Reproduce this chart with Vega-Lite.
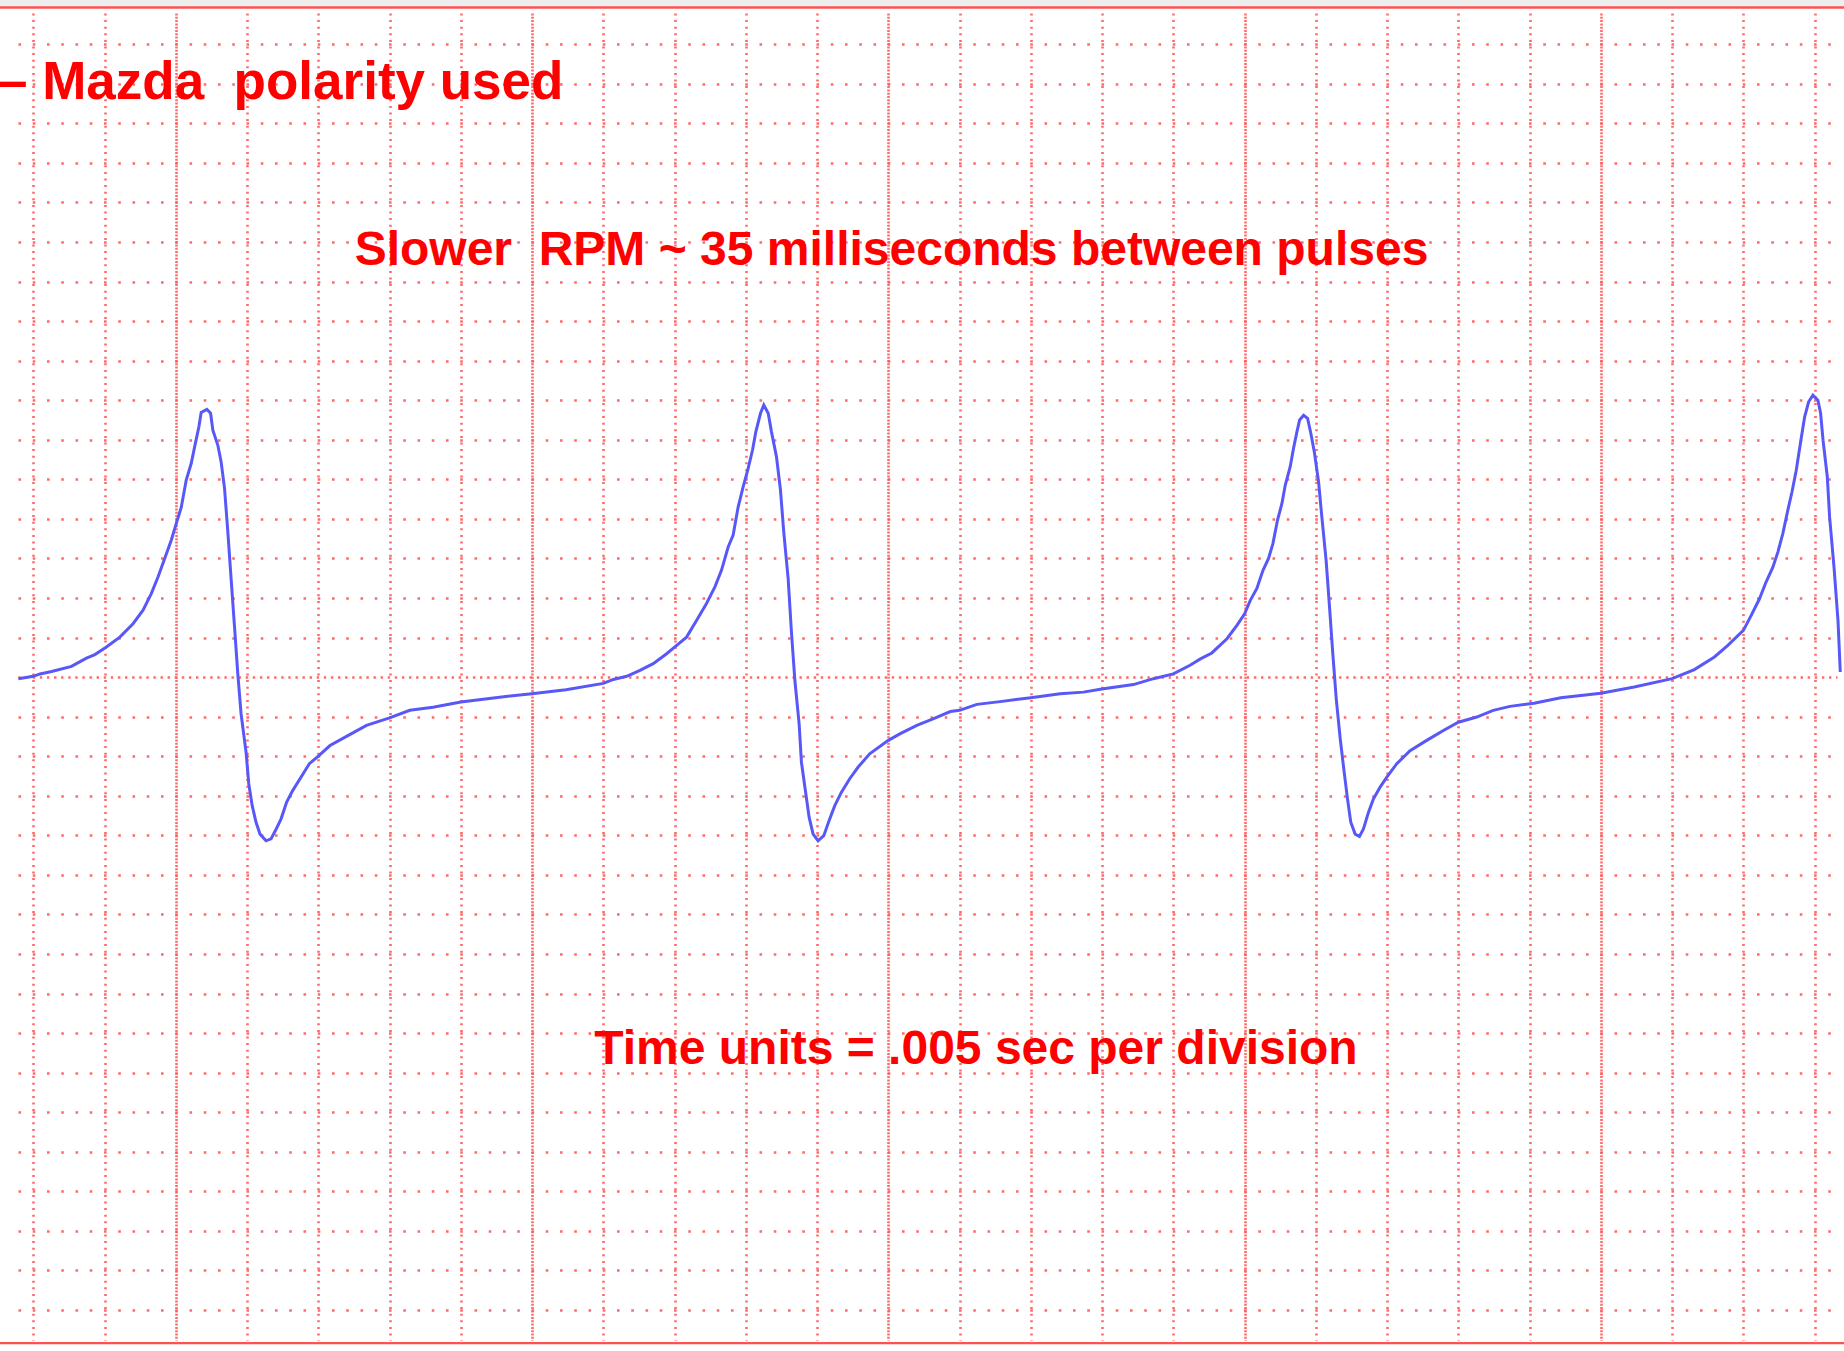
{
  "$schema": "https://vega.github.io/schema/vega-lite/v6.json",
  "width": 1819,
  "height": 1327,
  "autosize": {"type": "none"},
  "padding": {"left": 18, "right": 7, "top": 13, "bottom": 11},
  "background": "white",
  "config": {
    "view": {"stroke": null},
    "axis": {"labels": false, "ticks": false, "domain": false, "title": null, "grid": true}
  },
  "resolve": {"axis": {"x": "independent", "y": "independent"}},
  "datasets": {
    "wave": [
      {"t": -1.05, "v": -0.04}, {"t": 0, "v": 0.02}, {"t": 0.47, "v": 0.08}, {"t": 1.28, "v": 0.14}, {"t": 2.68, "v": 0.27},
      {"t": 3.73, "v": 0.48}, {"t": 4.32, "v": 0.57}, {"t": 5.13, "v": 0.76}, {"t": 6.07, "v": 1.01}, {"t": 7.0, "v": 1.35},
      {"t": 7.7, "v": 1.69}, {"t": 8.28, "v": 2.11}, {"t": 8.75, "v": 2.53}, {"t": 9.22, "v": 3.0}, {"t": 9.68, "v": 3.46},
      {"t": 10.03, "v": 3.88}, {"t": 10.38, "v": 4.29}, {"t": 10.73, "v": 4.98}, {"t": 11.08, "v": 5.4}, {"t": 11.32, "v": 5.82},
      {"t": 11.62, "v": 6.33}, {"t": 11.78, "v": 6.69}, {"t": 12.18, "v": 6.77}, {"t": 12.44, "v": 6.67}, {"t": 12.6, "v": 6.24},
      {"t": 12.95, "v": 5.86}, {"t": 13.18, "v": 5.44}, {"t": 13.42, "v": 4.77}, {"t": 13.65, "v": 3.67}, {"t": 13.88, "v": 2.49},
      {"t": 14.12, "v": 1.27}, {"t": 14.35, "v": 0.08}, {"t": 14.58, "v": -0.93}, {"t": 14.93, "v": -1.9}, {"t": 15.12, "v": -2.7},
      {"t": 15.36, "v": -3.25}, {"t": 15.63, "v": -3.67}, {"t": 15.91, "v": -3.97}, {"t": 16.33, "v": -4.14}, {"t": 16.68, "v": -4.09},
      {"t": 16.99, "v": -3.88}, {"t": 17.38, "v": -3.59}, {"t": 17.78, "v": -3.16}, {"t": 18.2, "v": -2.87}, {"t": 18.75, "v": -2.55},
      {"t": 19.37, "v": -2.19}, {"t": 20.0, "v": -2.0}, {"t": 20.82, "v": -1.73}, {"t": 21.98, "v": -1.5}, {"t": 23.38, "v": -1.22},
      {"t": 25.0, "v": -1.03}, {"t": 26.42, "v": -0.84}, {"t": 28.05, "v": -0.76}, {"t": 30.0, "v": -0.63}, {"t": 32.72, "v": -0.51},
      {"t": 34.98, "v": -0.42}, {"t": 37.38, "v": -0.32}, {"t": 40.0, "v": -0.16},
      {"t": 40.7, "v": -0.06}, {"t": 41.64, "v": 0.02}, {"t": 42.57, "v": 0.17}, {"t": 43.5, "v": 0.34}, {"t": 44.44, "v": 0.59},
      {"t": 45.0, "v": 0.76}, {"t": 45.84, "v": 1.01}, {"t": 46.54, "v": 1.43}, {"t": 47.24, "v": 1.86}, {"t": 47.83, "v": 2.28},
      {"t": 48.29, "v": 2.7}, {"t": 48.76, "v": 3.29}, {"t": 49.11, "v": 3.59}, {"t": 49.46, "v": 4.3}, {"t": 49.81, "v": 4.81},
      {"t": 50.16, "v": 5.27}, {"t": 50.47, "v": 5.74}, {"t": 50.7, "v": 6.2}, {"t": 51.03, "v": 6.67}, {"t": 51.26, "v": 6.88},
      {"t": 51.57, "v": 6.67}, {"t": 51.8, "v": 6.2}, {"t": 52.15, "v": 5.57}, {"t": 52.43, "v": 4.73}, {"t": 52.66, "v": 3.67},
      {"t": 52.97, "v": 2.49}, {"t": 53.2, "v": 1.14}, {"t": 53.44, "v": -0.08}, {"t": 53.74, "v": -1.18}, {"t": 53.9, "v": -2.15},
      {"t": 54.21, "v": -2.95}, {"t": 54.44, "v": -3.54}, {"t": 54.72, "v": -3.97}, {"t": 55.07, "v": -4.14}, {"t": 55.47, "v": -4.01},
      {"t": 55.84, "v": -3.63}, {"t": 56.24, "v": -3.25}, {"t": 56.71, "v": -2.91}, {"t": 57.29, "v": -2.57}, {"t": 57.87, "v": -2.28},
      {"t": 58.69, "v": -1.94}, {"t": 60.0, "v": -1.6}, {"t": 60.84, "v": -1.43}, {"t": 62.0, "v": -1.22}, {"t": 63.18, "v": -1.05},
      {"t": 64.35, "v": -0.87}, {"t": 65.0, "v": -0.84}, {"t": 66.21, "v": -0.69}, {"t": 67.85, "v": -0.62}, {"t": 70.0, "v": -0.52},
      {"t": 72.06, "v": -0.42}, {"t": 73.69, "v": -0.38}, {"t": 74.98, "v": -0.3}, {"t": 77.2, "v": -0.19}, {"t": 78.6, "v": -0.04},
      {"t": 80.0, "v": 0.08}, {"t": 81.17, "v": 0.3}, {"t": 81.9, "v": 0.46}, {"t": 82.7, "v": 0.61}, {"t": 83.76, "v": 0.97},
      {"t": 84.46, "v": 1.31}, {"t": 85.0, "v": 1.6}, {"t": 85.4, "v": 1.94}, {"t": 85.86, "v": 2.24}, {"t": 86.29, "v": 2.7},
      {"t": 86.68, "v": 3.0}, {"t": 86.99, "v": 3.38}, {"t": 87.31, "v": 3.97}, {"t": 87.62, "v": 4.39}, {"t": 87.85, "v": 4.85},
      {"t": 88.2, "v": 5.32}, {"t": 88.43, "v": 5.78}, {"t": 88.67, "v": 6.2}, {"t": 88.86, "v": 6.5}, {"t": 89.14, "v": 6.62},
      {"t": 89.42, "v": 6.54}, {"t": 89.65, "v": 6.16}, {"t": 89.89, "v": 5.7}, {"t": 90.19, "v": 4.94}, {"t": 90.42, "v": 4.05},
      {"t": 90.72, "v": 2.95}, {"t": 90.96, "v": 1.77}, {"t": 91.19, "v": 0.59}, {"t": 91.43, "v": -0.55}, {"t": 91.71, "v": -1.56},
      {"t": 91.99, "v": -2.41}, {"t": 92.22, "v": -3.08}, {"t": 92.45, "v": -3.67}, {"t": 92.76, "v": -3.97}, {"t": 93.06, "v": -4.03},
      {"t": 93.34, "v": -3.84}, {"t": 93.69, "v": -3.42}, {"t": 94.04, "v": -3.08}, {"t": 94.51, "v": -2.78}, {"t": 94.98, "v": -2.53},
      {"t": 95.68, "v": -2.19}, {"t": 96.61, "v": -1.86}, {"t": 97.78, "v": -1.6}, {"t": 98.95, "v": -1.35}, {"t": 100.0, "v": -1.14},
      {"t": 101.29, "v": -1.01}, {"t": 102.45, "v": -0.84}, {"t": 103.62, "v": -0.74}, {"t": 105.31, "v": -0.66}, {"t": 107.19, "v": -0.52},
      {"t": 110.0, "v": -0.41}, {"t": 112.34, "v": -0.25}, {"t": 115.0, "v": -0.04}, {"t": 116.56, "v": 0.19}, {"t": 117.97, "v": 0.51},
      {"t": 118.91, "v": 0.8}, {"t": 120.0, "v": 1.18}, {"t": 120.55, "v": 1.56}, {"t": 121.13, "v": 1.98}, {"t": 121.6, "v": 2.41},
      {"t": 122.07, "v": 2.78}, {"t": 122.42, "v": 3.16}, {"t": 122.77, "v": 3.63}, {"t": 123.12, "v": 4.22}, {"t": 123.41, "v": 4.68},
      {"t": 123.71, "v": 5.23}, {"t": 124.02, "v": 5.95}, {"t": 124.3, "v": 6.58}, {"t": 124.58, "v": 6.96}, {"t": 124.88, "v": 7.13},
      {"t": 125.23, "v": 7.0}, {"t": 125.42, "v": 6.67}, {"t": 125.59, "v": 5.99}, {"t": 125.89, "v": 5.06}, {"t": 126.05, "v": 4.05},
      {"t": 126.36, "v": 2.78}, {"t": 126.64, "v": 1.43}, {"t": 126.8, "v": 0.13}
    ]
  },
  "layer": [
    {
      "data": {"name": "wave"},
      "mark": {"type": "line", "color": "#5858f8", "strokeWidth": 3, "interpolate": "linear"},
      "encoding": {
        "x": {
          "field": "t", "type": "quantitative",
          "scale": {"domain": [-1.074, 126.57], "nice": false, "zero": false},
          "axis": {
            "values": [0, 5, 10, 15, 20, 25, 30, 35, 40, 45, 50, 55, 60, 65, 70, 75, 80, 85, 90, 95, 100, 105, 110, 115, 120, 125],
            "gridColor": "#ff5a5a", "gridWidth": 2.6, "gridOpacity": 0.9,
            "gridDash": {"condition": {"test": "(datum.value - 10) % 25 === 0", "value": [2, 1.3]}, "value": [2, 4.6]}
          }
        },
        "y": {
          "field": "v", "type": "quantitative",
          "scale": {"domain": [-16.76, 16.79], "nice": false, "zero": false},
          "axis": {
            "values": [-16, -15, -14, -13, -12, -11, -10, -9, -8, -7, -6, -5, -4, -3, -2, -1, 0, 1, 2, 3, 4, 5, 6, 7, 8, 9, 10, 11, 12, 13, 14, 15, 16],
            "gridColor": "#ff5a5a", "gridWidth": 2.6, "gridOpacity": 0.9,
            "gridDash": {"condition": {"test": "datum.value === 0", "value": [2.4, 4.7]}, "value": [2.6, 11.65]}
          }
        }
      }
    },
    {
      "data": {"values": [{"band": "top"}]},
      "mark": {"type": "rect", "color": "#eeeeee"},
      "encoding": {
        "x": {"datum": -2.34, "type": "quantitative", "axis": null},
        "x2": {"datum": 127.07},
        "y": {"datum": 17.12, "type": "quantitative", "axis": null},
        "y2": {"datum": 16.96}
      }
    },
    {
      "data": {"values": [{"edge": "top", "v": 16.93}, {"edge": "bottom", "v": -16.84}]},
      "mark": {"type": "rule", "color": "#ff5050", "strokeWidth": 2.4},
      "encoding": {
        "y": {"field": "v", "type": "quantitative", "axis": null},
        "x": {"datum": -2.34, "type": "quantitative", "axis": null},
        "x2": {"datum": 127.07}
      }
    },
    {
      "data": {"values": [{"label": "– Mazda\u00a0 polarity used", "t": -2.48, "v": 14.61}]},
      "mark": {"type": "text", "align": "left", "baseline": "alphabetic", "font": "Liberation Sans", "fontWeight": "bold", "fontSize": 53, "color": "#ff0000"},
      "encoding": {
        "x": {"field": "t", "type": "quantitative", "axis": null},
        "y": {"field": "v", "type": "quantitative", "axis": null},
        "text": {"field": "label"}
      }
    },
    {
      "data": {"values": [{"label": "Slower\u00a0 RPM ~ 35 milliseconds between pulses", "t": 60.22, "v": 10.43}]},
      "mark": {"type": "text", "align": "center", "baseline": "alphabetic", "font": "Liberation Sans", "fontWeight": "bold", "fontSize": 48, "color": "#ff0000"},
      "encoding": {
        "x": {"field": "t", "type": "quantitative", "axis": null},
        "y": {"field": "v", "type": "quantitative", "axis": null},
        "text": {"field": "label"}
      }
    },
    {
      "data": {"values": [{"label": "Time units = .005 sec per division", "t": 66.15, "v": -9.79}]},
      "mark": {"type": "text", "align": "center", "baseline": "alphabetic", "font": "Liberation Sans", "fontWeight": "bold", "fontSize": 48, "color": "#ff0000"},
      "encoding": {
        "x": {"field": "t", "type": "quantitative", "axis": null},
        "y": {"field": "v", "type": "quantitative", "axis": null},
        "text": {"field": "label"}
      }
    }
  ]
}
